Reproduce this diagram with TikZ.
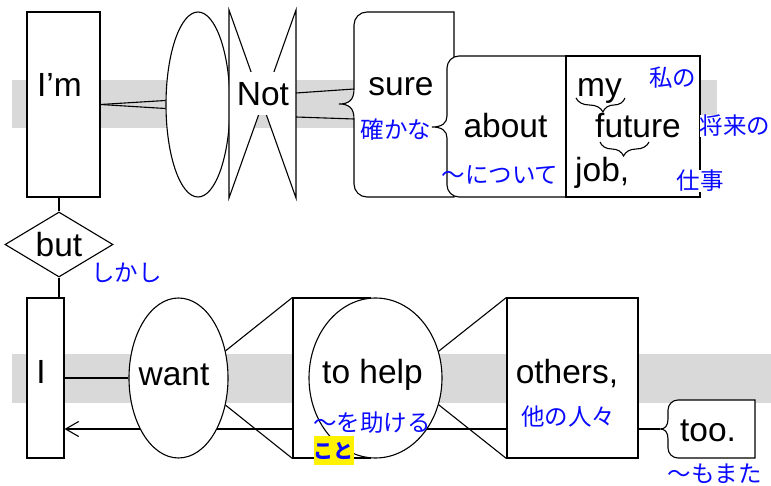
\documentclass[tikz,border=0pt]{standalone}
\usepackage{fontspec}
\setmainfont{Liberation Sans}
\newfontfamily\jp{Noto Sans CJK JP}
\usetikzlibrary{shapes.geometric,arrows.meta,calc,decorations.pathreplacing}
\pgfdeclarelayer{background}
\pgfsetlayers{background,main}
\definecolor{band}{RGB}{217,217,217}
\definecolor{jblue}{RGB}{10,10,255}
\tikzset{
  ln/.style={line width=1.1pt, draw=black},
  shp/.style={draw=black, line width=1.1pt, fill=white, inner sep=0pt},
  en/.style={font=\fontsize{33.5}{40}\selectfont, inner sep=0pt, anchor=base},
  ja/.style={font=\jp\fontsize{23.5}{28}\selectfont, text=jblue, inner sep=0pt, anchor=base},
  bandbox/.style={fill=band, draw=none},
  smallbrace/.style={ln, decorate, decoration={brace, mirror, amplitude=14pt}},
}
\begin{document}
\begin{tikzpicture}[x=1pt,y=-1pt]
\useasboundingbox (0,0) rectangle (771,486);

% ---------- top row ----------
\node[shp, rectangle, minimum width=73, minimum height=185] (imbox) at (63.5,104.5) {};
\node[shp, ellipse, minimum width=64, minimum height=185] (ell) at (198,104.5) {};

\coordinate (notC) at (262.5,104);
\coordinate (notR) at (296,104);
\draw[ln, fill=white] (229,10) -- (notC) -- (229,198) -- cycle;
\draw[ln, fill=white] (296,10) -- (notC) -- (296,198) -- cycle;
\node[fill=white, inner sep=0pt, minimum width=62, minimum height=43] (notbox) at (262.5,93.5) {};

% sure box (brace on the left)
\coordinate (sureL) at (354,104);
\draw[ln, fill=white] (454,12) -- (454,197) -- (367,197)
  .. controls (359.8,197) and (354,191.2) .. (354,184) -- (354,119)
  .. controls (354,108) and (349,104) .. (339,104)
  .. controls (349,104) and (354,100) .. (354,89) -- (354,25)
  .. controls (354,17.8) and (359.8,12) .. (367,12) -- cycle;

% about box (brace on the left)
\coordinate (aboutL) at (447,127);
\draw[ln, fill=white] (566,56) -- (566,197) -- (459,197)
  .. controls (452.4,197) and (447,191.6) .. (447,185) -- (447,138)
  .. controls (447,131) and (442,127) .. (432,127)
  .. controls (442,127) and (447,123) .. (447,116) -- (447,68)
  .. controls (447,61.4) and (452.4,56) .. (459,56) -- cycle;

\node[shp, rectangle, minimum width=134, minimum height=141] (mybox) at (633,126.5) {};

% top connectors
\draw[ln] (imbox.east) -- ($(ell.west)+(0,-4)$);
\draw[ln] (imbox.east) -- ($(ell.west)+(0,4)$);
\draw[ln] ($(notR)+(0,-11)$) -- ($(sureL)+(0,-15)$);
\draw[ln] ($(notR)+(0,13)$) -- ($(sureL)+(0,15)$);

% small braces
\draw[smallbrace, decoration={aspect=0.55}] (576,98) -- (625,98);
\draw[smallbrace, decoration={aspect=0.48}] (600,142) -- (649,142);

% ---------- middle ----------
\node[shp, diamond, aspect=1.66, minimum width=108, minimum height=65] (but) at (59,244.5) {};
\draw[ln] (imbox.south -| but.north) -- (but.north);

% ---------- bottom row ----------
\node[shp, rectangle, minimum width=37, minimum height=160] (ibox) at (45.5,378) {};
\draw[ln] (but.south) -- (but.south |- ibox.north);
\node[shp, ellipse, minimum width=99, minimum height=160] (want) at (178.5,378) {};
\node[shp, rectangle, minimum width=77, minimum height=160] (thbox) at (331.5,378) {};
\node[shp, ellipse, minimum width=133, minimum height=160] (thell) at (375.5,378) {};
\node[shp, rectangle, minimum width=131, minimum height=160] (others) at (572.5,378) {};

\coordinate (tooTip) at (660,429);
\draw[ln, fill=white] (755,400) -- (755,458) -- (678,458)
  .. controls (672.5,458) and (668,453.5) .. (668,448) -- (668,439)
  .. controls (668,432) and (665,429) .. (660,429)
  .. controls (665,429) and (668,426) .. (668,419) -- (668,410)
  .. controls (668,404.5) and (672.5,400) .. (678,400) -- cycle;

\draw[ln] (ibox.east) -- (want.west);
\draw[ln] (want.30) -- (thbox.north west);
\draw[ln] (want.-30) -- (thbox.south west);
\draw[ln] (thell.23) -- (others.north west);
\draw[ln] (thell.-23) -- (others.south west);
\draw[ln] (others.east |- tooTip) -- (tooTip);

\begin{pgfonlayer}{background}
  \fill[bandbox] (12,80) rectangle (717,128);
  \fill[bandbox] (12,354) rectangle (771,403);
  \draw[ln, -{Straight Barb[length=13pt,width=15pt]}] (others.west |- tooTip) -- (ibox.east |- tooTip);
\end{pgfonlayer}

% ---------- English words ----------
\node[en] (tim) at (59.5,97) {I’m};
\node[en] (tnot) at (263,105.5) {Not};
\node[en] (tsure) at (401,96) {sure};
\node[en] (tabout) at (505.5,137.3) {about};
\node[en, anchor=base west] (tmy) at (577,97) {my};
\node[en, anchor=base west] (tfuture) at (595,137.3) {future};
\node[en, anchor=base west] (tjob) at (575,181.7) {job,};
\node[en] (tbut) at (59,256.7) {but};
\node[en] (ti) at (41,383) {I};
\node[en] (twant) at (174,385) {want};
\node[en] (thelp) at (372.5,383.3) {to help};
\node[en] (tothers) at (567,383.3) {others,};
\node[en] (ttoo) at (708,441.7) {too.};

% ---------- Japanese glosses ----------
\node[ja] (jsure) at (396,138.5) {確かな};
\node[ja] (jabout) at (500,183.5) {～について};
\node[ja] (jmy) at (672.5,86.5) {私の};
\node[ja, fill=white] (jfuture) at (735,135) {将来の};
\node[ja, fill=white] (jjob) at (700,190) {仕事};
\node[ja] (jbut) at (126.5,281.5) {しかし};
\node[ja] (jhelp) at (372,431.5) {～を助ける};
\node[font=\jp\bfseries\fontsize{20}{24}\selectfont, text=jblue, fill=yellow, inner sep=0pt, minimum width=39, minimum height=29] (jkoto) at (333.5,450.5) {こと};
\node[ja] (jothers) at (568,425) {他の人々};
\node[ja] (jtoo) at (714.5,482) {～もまた};
\end{tikzpicture}
\end{document}
